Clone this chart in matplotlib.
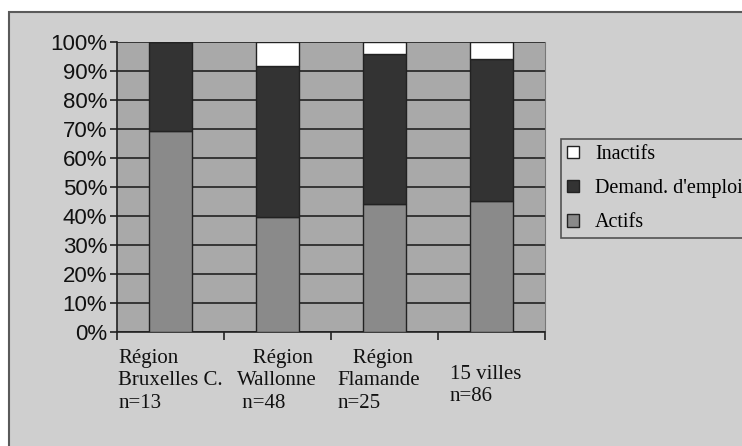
import numpy as np
import matplotlib.pyplot as plt
from matplotlib.patches import Rectangle

# donnees (pourcentages)
categories = ["Région\nBruxelles C.\nn=13", "   Région\nWallonne\n n=48",
              "   Région\nFlamande\nn=25", "15 villes\nn=86"]
actifs = [69.2, 39.6, 44.0, 45.3]
demandeurs = [30.8, 52.1, 52.0, 48.8]
inactifs = [0.0, 8.3, 4.0, 5.9]

W, H = 742, 446
fig = plt.figure(figsize=(W / 100, H / 100), dpi=100)
fig.patch.set_facecolor('white')

# cadre du graphique (gris clair, bordure foncee)
cadre = Rectangle((9 / W, -0.05), 1.2, 1 - 12 / H + 0.05,
                  transform=fig.transFigure, facecolor='#cfcfcf',
                  edgecolor='#5a5a5a', linewidth=1.5, zorder=-5)
fig.add_artist(cadre)

ax = fig.add_axes([117 / W, 1 - 332 / H, (545 - 117) / W, (332 - 42) / H])
ax.set_zorder(2)
ax.set_facecolor('#a9a9a9')

x = np.arange(len(categories))
w = 0.4
ax.bar(x, actifs, w, color='#8a8a8a', edgecolor='#222222', linewidth=1, label='Actifs', zorder=3)
ax.bar(x, demandeurs, w, bottom=actifs, color='#333333', edgecolor='#222222', linewidth=1,
       label="Demand. d'emploi", zorder=3)
bas = np.array(actifs) + np.array(demandeurs)
ax.bar(x, inactifs, w, bottom=bas, color='white', edgecolor='#222222', linewidth=1,
       label='Inactifs', zorder=3)

ax.set_xlim(-0.5, len(categories) - 0.5)
ax.set_ylim(0, 100)
ax.set_yticks(np.arange(0, 101, 10))
ax.set_yticklabels([f"{v}%" for v in range(0, 101, 10)], family='Liberation Sans',
                   fontsize=16, color='#111111')
ax.yaxis.grid(True, color='#222222', linewidth=1.2, zorder=1)
ax.set_axisbelow(True)
ax.tick_params(axis='y', length=5, width=1.2, color='#222222', pad=2)

# ticks x entre les categories
ax.set_xticks(np.arange(-0.5, len(categories)))
ax.set_xticklabels([])
ax.tick_params(axis='x', length=6, width=1.2, color='#222222', direction='out')

ax.spines['top'].set_visible(False)
ax.spines['right'].set_color('#777777')
ax.spines['left'].set_color('#222222')
ax.spines['bottom'].set_color('#222222')
ax.spines['left'].set_linewidth(1.2)
ax.spines['bottom'].set_linewidth(1.2)

# etiquettes des categories
decal = [0.01, 0.12, 0.06, 0.11]
haut = [-0.06, -0.06, -0.06, -0.115]
for i, lab in enumerate(categories):
    ax.text(i - 0.5 + decal[i], haut[i], lab, transform=ax.get_xaxis_transform(),
            ha='left', va='top', family='Liberation Serif', fontsize=15,
            linespacing=1.22, color='#111111')

h, l = ax.get_legend_handles_labels()
leg = fig.legend(h[::-1], l[::-1], loc='upper left', bbox_to_anchor=(561 / W, 1 - 139 / H),
                 prop={'family': 'Liberation Serif', 'size': 14.5}, frameon=True,
                 fancybox=False, edgecolor='#333333', facecolor='#cfcfcf',
                 handlelength=0.6, handleheight=0.6, handletextpad=0.8,
                 labelspacing=0.75, borderpad=0.3, borderaxespad=0)
leg.get_frame().set_linewidth(1.2)
leg.set_zorder(3)

fig.savefig('out.png', dpi=100)
